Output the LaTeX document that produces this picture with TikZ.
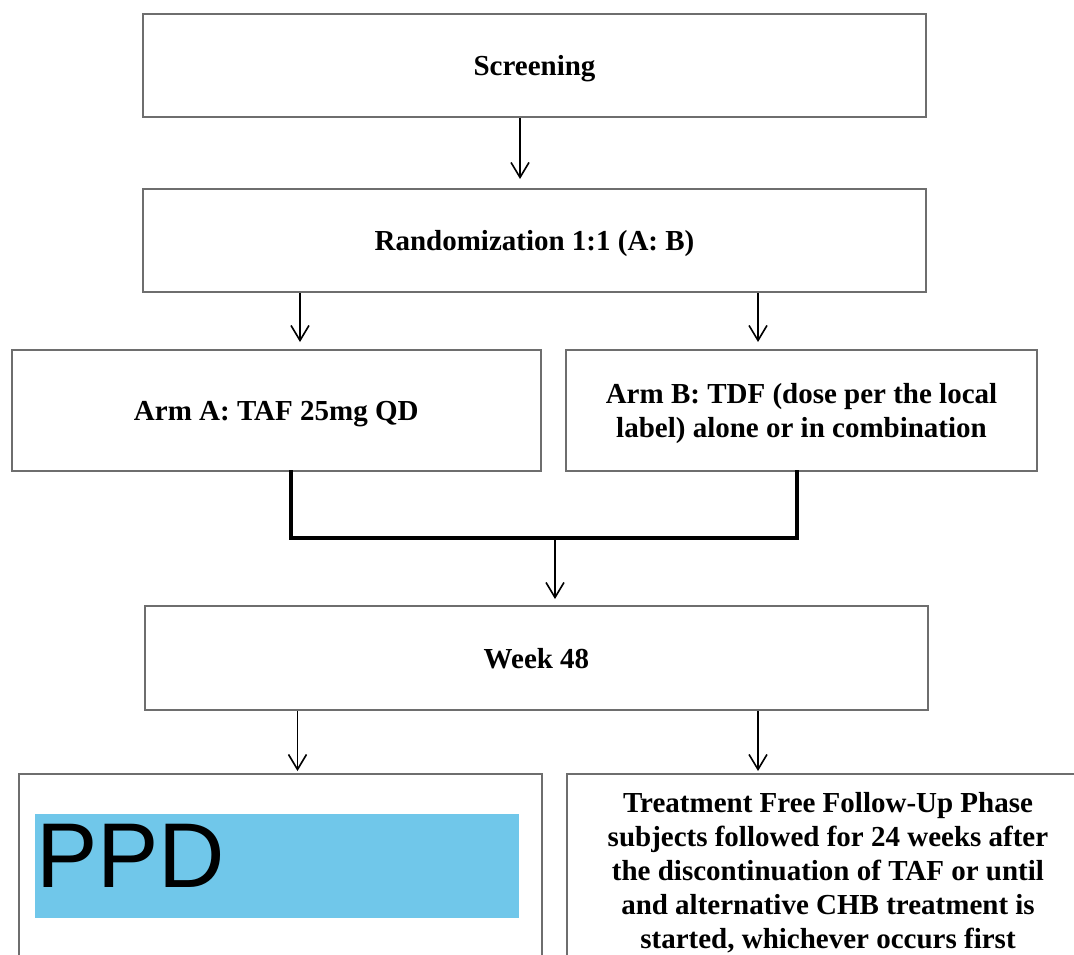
\documentclass[tikz,border=0pt]{standalone}
\usepackage{fontspec}
\setmainfont{Liberation Serif}
\newfontfamily\ppdfont{Liberation Sans}
\usetikzlibrary{arrows.meta}
\definecolor{ppdblue}{RGB}{112,199,234}
\definecolor{boxgray}{RGB}{110,110,110}
\begin{document}
\begin{tikzpicture}[x=1pt,y=-1pt,
  box/.style={draw=boxgray, line width=2pt, inner sep=0pt, text depth=0pt, font=\bfseries\fontsize{29}{34}\selectfont, align=center},
  txt/.style={inner sep=0pt, font=\bfseries\fontsize{29}{34}\selectfont, align=center},
  arr/.style={-{Straight Barb[length=15pt,width=18pt,line width=1.6pt]}, line width=1.6pt},
  joinline/.style={line width=4pt, line cap=rect}]
\useasboundingbox (0,0) rectangle (1074,954);
\clip (0,0) rectangle (1074,954);
\fill[white] (0,0) rectangle (1074,954);

\node[box, minimum width=783pt, minimum height=103pt] (scr) at (534.5,65.5) {Screening};
\node[box, minimum width=783pt, minimum height=103pt] (rand) at (534.5,240.5) {Randomization 1:1 (A: B)};
\node[box, minimum width=529.5pt, minimum height=121pt] (armA) at (276.25,410.5) {Arm A: TAF 25mg QD};
\node[box, minimum width=471pt, minimum height=121pt] (armB) at (801.5,410.5) {Arm B: TDF (dose per the local\\label) alone or in combination};
\node[box, minimum width=783pt, minimum height=104pt] (week) at (536.5,658) {Week 48};
\node[box, minimum width=523pt, minimum height=236pt] (ppdbox) at (280.5,892) {};
\node[fill=ppdblue, inner sep=0pt, minimum width=484pt, minimum height=104pt] (ppdfill) at (277,866) {};
\node[inner sep=0pt, anchor=west, font=\ppdfont\fontsize{92}{100}\selectfont] (ppdtext) at (36,856) {PPD};
\node[box, minimum width=528pt, minimum height=236pt] (fubox) at (831,892) {};
\node[txt] (fu) at (828,873) {Treatment Free Follow-Up Phase\\subjects followed for 24 weeks after\\the discontinuation of TAF or until\\and alternative CHB treatment is\\started, whichever occurs first};

\draw[arr, shorten >=9pt] (scr.south -| 520,0) -- (rand.north -| 520,0);
\draw[arr, shorten >=7pt] (rand.south -| 300,0) -- (armA.north -| 300,0);
\draw[arr, shorten >=7pt] (rand.south -| 758,0) -- (armB.north -| 758,0);

\coordinate (mj) at (555,538);
\draw[joinline] (armA.south -| 291,0) -- (291,538) -- (797,538) -- (armB.south -| 797,0);
\draw[arr, shorten >=6pt] (mj) -- (week.north -| mj);

\draw[arr, shorten >=2pt] (week.south -| 297.5,0) -- (ppdbox.north -| 297.5,0);
\draw[arr, shorten >=2pt] (week.south -| 758,0) -- (fubox.north -| 758,0);
\end{tikzpicture}
\end{document}
